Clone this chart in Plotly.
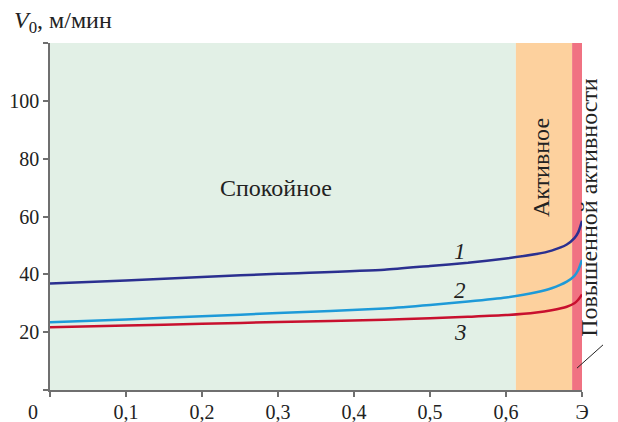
import plotly.graph_objects as go

# ---- data ----
x_vals = [0, 0.1, 0.2, 0.3, 0.44, 0.5, 0.55, 0.6, 0.64, 0.66, 0.68, 0.69, 0.695, 0.7]
v1 = [36.8, 37.9, 39.1, 40.2, 41.6, 42.9, 44.0, 45.5, 47.0, 48.2, 50.3, 52.5, 54.5, 58.5]
v2 = [23.4, 24.4, 25.5, 26.6, 28.2, 29.4, 30.6, 32.0, 33.8, 35.2, 37.5, 39.5, 41.5, 45.0]
v3 = [21.7, 22.3, 22.9, 23.5, 24.3, 24.8, 25.3, 25.9, 26.8, 27.6, 28.8, 30.0, 31.2, 33.0]
curve_names = ["1", "2", "3"]
curve_colors = ["#2B3090", "#1E9AD8", "#C8102E"]

zone_edges = [0, 0.613, 0.687, 0.7]
zone_names = ["Спокойное", "Активное", "Повышенной активности"]
zone_colors = ["#E2F0E6", "#FDD19E", "#F07282"]

x_ticks = [0, 0.1, 0.2, 0.3, 0.4, 0.5, 0.6, 0.7]
x_ticktext = ["", "0,1", "0,2", "0,3", "0,4", "0,5", "0,6", "Э"]
y_ticks = [0, 20, 40, 60, 80, 100, 120]
y_ticktext = ["", "20", "40", "60", "80", "100", ""]

FONT = "Liberation Serif"
TXT = "#222222"

fig = go.Figure()

# zone backgrounds
for i in range(3):
    fig.add_shape(type="rect", xref="x", yref="y",
                  x0=zone_edges[i], x1=zone_edges[i + 1], y0=0, y1=120,
                  fillcolor=zone_colors[i], line_width=0, layer="below")

for name, ys, c in zip(curve_names, [v1, v2, v3], curve_colors):
    fig.add_trace(go.Scatter(x=x_vals, y=ys, mode="lines", name=name,
                             line=dict(color=c, width=2.5, shape="spline", smoothing=0.6),
                             showlegend=False, hoverinfo="skip"))

# curve labels
for name, (lx, ly) in zip(curve_names, [(0.54, 48), (0.54, 34.5), (0.54, 20)]):
    fig.add_annotation(x=lx, y=ly, xref="x", yref="y", text="<i>%s</i>" % name,
                       showarrow=False, font=dict(family=FONT, size=23, color=TXT))

# zone labels
fig.add_annotation(x=0.297, y=70, xref="x", yref="y", text=zone_names[0], showarrow=False,
                   font=dict(family=FONT, size=24, color=TXT))
fig.add_annotation(x=0.647, y=77, xref="x", yref="y", text=zone_names[1], showarrow=False,
                   textangle=-90, font=dict(family=FONT, size=24, color=TXT))
fig.add_annotation(x=1, y=0.525, xref="paper", yref="paper", xshift=22, text=zone_names[2],
                   showarrow=False, textangle=-90, font=dict(family=FONT, size=24, color=TXT))
# leader line
fig.add_shape(type="line", xref="paper", yref="paper", x0=0.9906, y0=0.063, x1=1.0395, y1=0.13,
              line=dict(color=TXT, width=1))

# origin label and axis title
fig.add_annotation(x=0, y=0, xref="x", yref="y", text="0", showarrow=False,
                   xshift=-17, yshift=-22, font=dict(family=FONT, size=20, color=TXT))
fig.add_annotation(x=0, y=1, xref="paper", yref="paper", xanchor="left", yanchor="bottom",
                   xshift=-38, yshift=4, text="<i>V</i><sub>0</sub>, м/мин", showarrow=False,
                   font=dict(family=FONT, size=24, color=TXT))

axis_common = dict(showgrid=False, zeroline=False, showline=True, linecolor="#6f6f6f",
                   linewidth=1.5, ticks="outside", ticklen=5, tickcolor="#6f6f6f",
                   tickwidth=1.5, automargin=False,
                   tickfont=dict(family=FONT, size=20, color=TXT))
fig.update_xaxes(range=[0, 0.7], tickvals=x_ticks, ticktext=x_ticktext,
                 ticklabelstandoff=-2, **axis_common)
fig.update_yaxes(range=[0, 120], tickvals=y_ticks, ticktext=y_ticktext, **axis_common)

fig.update_layout(width=610, height=414, margin=dict(l=42, r=36, t=35, b=32),
                  paper_bgcolor="white", plot_bgcolor="white",
                  font=dict(family=FONT, size=20, color=TXT))

fig.write_html("out.html")
